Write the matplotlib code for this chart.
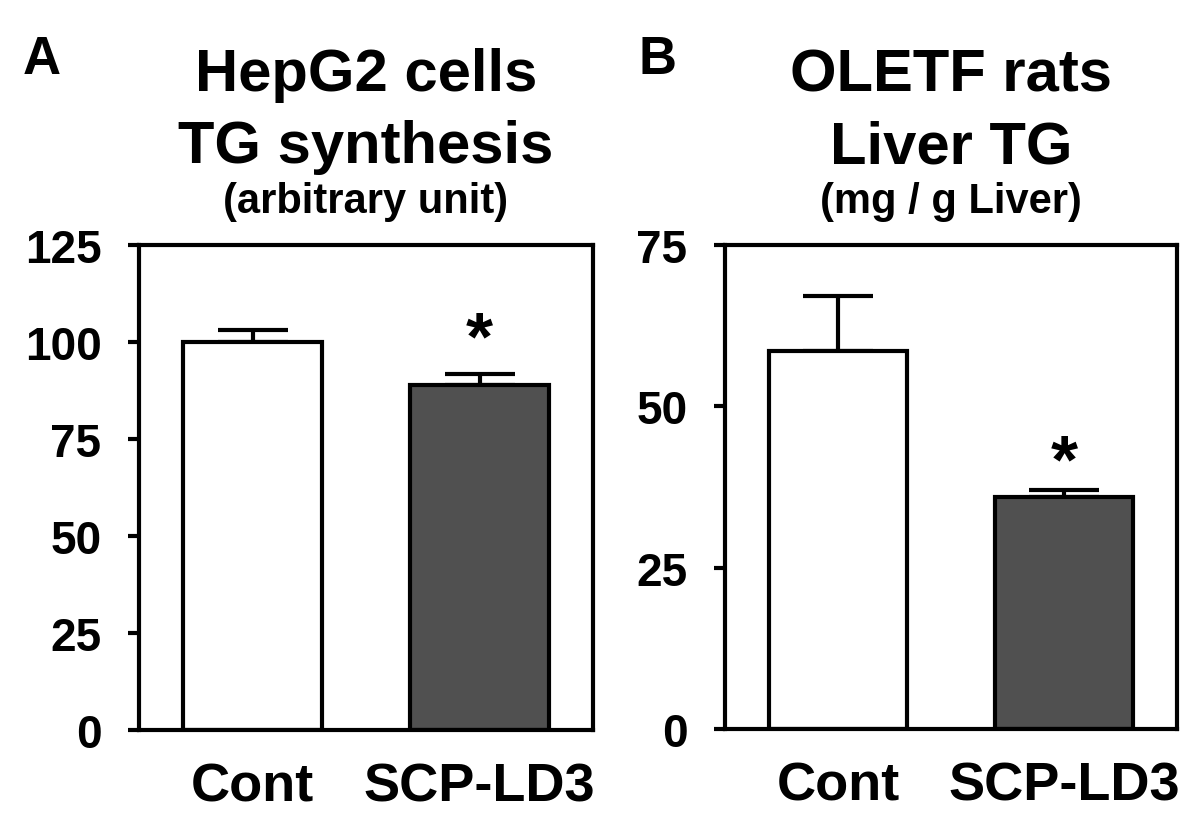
import matplotlib
matplotlib.use("Agg")
import matplotlib.pyplot as plt

plt.rcParams['font.family'] = ['Liberation Sans', 'DejaVu Sans']
plt.rcParams['font.weight'] = 'bold'

categories = ["Cont", "SCP-LD3"]

# Panel A: HepG2 cells TG synthesis
a_values = [100.0, 88.8]
a_err = [3.1, 3.0]
a_ticks = [0, 25, 50, 75, 100, 125]

# Panel B: OLETF rats Liver TG
b_values = [58.6, 36.0]
b_err = [8.5, 1.0]
b_ticks = [0, 25, 50, 75]

colors = ["#ffffff", "#505050"]

fig = plt.figure(figsize=(12, 8.29), dpi=100)
W, H = 1200, 829

def make_axes(left, right, top, bottom):
    return fig.add_axes([left / W, (H - bottom) / H, (right - left) / W, (bottom - top) / H])

axA = make_axes(139, 593, 246, 731)
axB = make_axes(725, 1177, 246, 730)

LW = 3.0

def draw(ax, values, err, ticks, star_offset):
    x = list(range(len(categories)))
    ax.bar(x, values, width=0.615, color=colors, edgecolor="black", linewidth=LW, zorder=2)
    ax.errorbar(x, values, yerr=[[0] * len(err), err], fmt="none", ecolor="black",
                elinewidth=LW, capsize=25.5, capthick=LW, zorder=1)
    ax.set_xlim(-0.5, 1.5)
    ax.set_ylim(ticks[0], ticks[-1])
    ax.set_yticks(ticks)
    ax.set_yticklabels([str(t) for t in ticks], fontsize=33, fontweight="bold")
    ax.set_xticks(x)
    ax.set_xticklabels(categories, fontsize=39, fontweight="bold")
    ax.tick_params(axis="y", direction="out", length=8, width=LW, pad=19)
    ax.tick_params(axis="x", length=0, pad=23)
    for s in ax.spines.values():
        s.set_linewidth(LW)
    ax.annotate("*", xy=(1, values[1] + err[1]), xytext=(0, star_offset),
                textcoords="offset points", ha="center", va="center",
                fontsize=50, fontweight="bold")

draw(axA, a_values, a_err, a_ticks, 24)
draw(axB, b_values, b_err, b_ticks, 19)

def title(cx, lines):
    y_base = [91, 163, 213]
    sizes = [43, 43, 30]
    for txt, yb, fs in zip(lines, y_base, sizes):
        fig.text(cx / W, (H - yb) / H, txt, ha="center", va="baseline",
                 fontsize=fs, fontweight="bold")

title(366, ["HepG2 cells", "TG synthesis", "(arbitrary unit)"])
title(951, ["OLETF rats", "Liver TG", "(mg / g Liver)"])

fig.text(23 / W, (H - 74) / H, "A", ha="left", va="baseline", fontsize=38, fontweight="bold")
fig.text(638 / W, (H - 74) / H, "B", ha="left", va="baseline", fontsize=38, fontweight="bold")

fig.savefig("out.png", dpi=100)
